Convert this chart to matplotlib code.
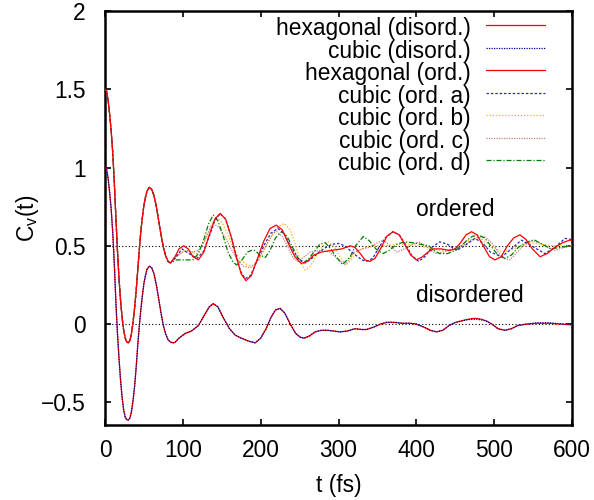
import matplotlib
matplotlib.use("Agg")
import matplotlib.pyplot as plt

plt.rcParams['font.family'] = ['Liberation Sans', 'DejaVu Sans']
plt.rcParams['mathtext.fontset'] = 'custom'
plt.rcParams['mathtext.rm'] = 'Liberation Sans'
plt.rcParams['mathtext.it'] = 'Liberation Sans'

# ---- data ----
t_dis = [0, 2, 4, 6, 8, 10, 12, 14, 16, 18, 20, 22, 24, 26, 28, 30, 32, 34, 36, 38, 40, 42,
         44, 46, 48, 50, 52, 54, 57, 60, 63, 66, 69, 72, 75, 78, 81, 84, 87, 90,
         95, 103, 111, 120, 128, 134, 139, 145, 152, 160, 167, 175, 185, 193, 200, 207,
         213, 219, 225, 231, 238, 245, 251, 256, 263, 270, 278, 286, 294, 302, 311, 321,
         330, 336, 345, 354, 362, 372, 382, 392, 400, 410, 418, 426, 434, 442, 450, 458,
         466, 473, 478, 484, 490, 497, 505, 514, 522, 530, 542, 555, 570, 585, 600]
hex_dis = [1.0, 0.99, 0.93, 0.84, 0.73, 0.58, 0.38, 0.14, -0.06, -0.22, -0.36, -0.47, -0.55,
           -0.595, -0.612, -0.613, -0.60, -0.56, -0.49, -0.40, -0.28, -0.14, -0.02, 0.09, 0.18,
           0.26, 0.31, 0.35, 0.37, 0.36, 0.32, 0.25, 0.16, 0.07, -0.01, -0.065, -0.10, -0.115,
           -0.12, -0.117,
           -0.09, -0.06, -0.045, -0.01, 0.06,
           0.11, 0.13, 0.11, 0.04, -0.03, -0.07, -0.09, -0.11, -0.12, -0.09, -0.03, 0.04,
           0.09, 0.10, 0.07, 0.0, -0.06, -0.085, -0.09, -0.075, -0.05, -0.04, -0.04, -0.045,
           -0.05, -0.045, -0.03, -0.035, -0.035, -0.02, 0.0, 0.01, 0.01, 0.005, 0.005, 0.0,
           -0.02, -0.04, -0.05, -0.04, -0.01, 0.01, 0.02, 0.03, 0.036, 0.036, 0.03, 0.02,
           0.0, -0.03, -0.04, -0.03, -0.01, 0.0, 0.005, 0.005, 0.0, -0.005]
cub_dis = [1.0, 0.99, 0.93, 0.84, 0.73, 0.58, 0.38, 0.14, -0.06, -0.22, -0.36, -0.47, -0.55,
           -0.595, -0.612, -0.613, -0.60, -0.56, -0.49, -0.40, -0.28, -0.14, -0.02, 0.09, 0.18,
           0.26, 0.31, 0.35, 0.37, 0.36, 0.32, 0.25, 0.16, 0.07, -0.01, -0.065, -0.10, -0.115,
           -0.12, -0.117,
           -0.09, -0.06, -0.045, -0.01, 0.06,
           0.11, 0.13, 0.11, 0.04, -0.03, -0.07, -0.09, -0.11, -0.12, -0.09, -0.03, 0.04,
           0.09, 0.10, 0.07, 0.0, -0.06, -0.085, -0.09, -0.075, -0.05, -0.04, -0.04, -0.045,
           -0.05, -0.045, -0.03, -0.035, -0.035, -0.02, 0.0, 0.012, 0.012, 0.005, 0.005, 0.0,
           -0.02, -0.04, -0.05, -0.04, -0.01, 0.01, 0.02, 0.028, 0.03, 0.03, 0.026, 0.018,
           0.0, -0.03, -0.04, -0.03, -0.01, 0.0, 0.008, 0.008, 0.002, -0.005]

t_start = [0, 2, 4, 6, 8, 10, 12, 14, 16, 18, 20, 22, 24, 26, 28, 30, 32, 34, 36, 38, 40,
           42, 44, 46, 48, 50, 52, 54, 57, 60, 63, 66, 69, 72, 75, 78, 81, 84]
y_start = [1.5, 1.49, 1.43, 1.34, 1.23, 1.09, 0.90, 0.68, 0.47, 0.29, 0.15, 0.04, -0.04,
           -0.09, -0.115, -0.12, -0.105, -0.06, 0.01, 0.10, 0.21, 0.34, 0.47, 0.59, 0.68,
           0.76, 0.81, 0.85, 0.873, 0.86, 0.82, 0.75, 0.66, 0.57, 0.49, 0.435, 0.40, 0.39]

t_hex_ord = [90, 95, 101, 107, 113, 120, 127, 134, 141, 148, 155, 162, 168, 175, 181, 188,
             196, 204, 212, 220, 228, 236, 244, 252, 260, 268, 278, 290, 304, 315, 321, 328,
             334, 340, 347, 355, 362, 370, 378, 386, 393, 400, 408, 415, 422, 432, 443, 450,
             456, 464, 471, 478, 486, 494, 501, 509, 517, 525, 533, 541, 549, 559, 568, 578,
             588, 597, 600]
hex_ord = [0.43, 0.48, 0.50, 0.48, 0.43, 0.41, 0.46, 0.57, 0.67, 0.707, 0.67, 0.56, 0.44,
           0.32, 0.277, 0.31, 0.42, 0.53, 0.61, 0.632, 0.60, 0.51, 0.43, 0.387, 0.40, 0.44,
           0.46, 0.47, 0.48, 0.50, 0.49, 0.45, 0.41, 0.40, 0.42, 0.49, 0.56, 0.59, 0.57, 0.50,
           0.44, 0.41, 0.43, 0.46, 0.48, 0.48, 0.47, 0.48, 0.515, 0.57, 0.59, 0.57, 0.50, 0.43,
           0.41, 0.43, 0.50, 0.55, 0.57, 0.54, 0.48, 0.43, 0.45, 0.49, 0.52, 0.536, 0.535]

t_cub_a = [90, 99, 108, 118, 126, 134, 141, 148, 155, 162, 168, 174, 180, 187, 195, 204,
           213, 222, 230, 238, 248, 257, 266, 275, 284, 292, 300, 308, 315, 322, 330, 336,
           344, 352, 360, 370, 378, 386, 394, 403, 411, 420, 430, 440, 452, 462, 475, 485,
           495, 510, 522, 535, 548, 565, 578, 591, 600]
cub_a = [0.42, 0.48, 0.45, 0.42, 0.46, 0.56, 0.66, 0.705, 0.67, 0.56, 0.45, 0.34, 0.29, 0.31,
         0.40, 0.50, 0.58, 0.61, 0.58, 0.50, 0.42, 0.39, 0.42, 0.46, 0.49, 0.51, 0.515, 0.50,
         0.47, 0.44, 0.41, 0.40, 0.42, 0.49, 0.55, 0.59, 0.57, 0.51, 0.44, 0.40, 0.43, 0.49,
         0.525, 0.51, 0.47, 0.50, 0.547, 0.52, 0.46, 0.43, 0.48, 0.536, 0.50, 0.45, 0.49,
         0.547, 0.54]

t_cub_b = [92, 100, 105, 112, 118, 125, 132, 138, 144, 150, 158, 166, 174, 182, 190, 198,
           206, 214, 222, 230, 238, 245, 251, 257, 264, 272, 280, 287, 295, 303, 310, 318,
           326, 340, 360, 375, 390, 405, 420, 435, 450, 465, 480, 495, 510, 525, 540, 548,
           560, 575, 590, 600]
cub_b = [0.44, 0.46, 0.47, 0.46, 0.45, 0.50, 0.58, 0.65, 0.675, 0.65, 0.57, 0.47, 0.41, 0.38,
         0.37, 0.41, 0.49, 0.56, 0.62, 0.643, 0.60, 0.50, 0.40, 0.345, 0.37, 0.44, 0.50, 0.526,
         0.49, 0.42, 0.377, 0.42, 0.47, 0.50, 0.50, 0.51, 0.51, 0.50, 0.48, 0.47, 0.48, 0.53,
         0.557, 0.50, 0.46, 0.48, 0.51, 0.52, 0.51, 0.50, 0.50, 0.50]

t_cub_c = [92, 100, 105, 112, 120, 128, 134, 139, 146, 154, 162, 170, 178, 186, 194, 202,
           210, 216, 221, 228, 236, 242, 248, 256, 263, 275, 289, 298, 308, 315, 321, 330,
           340, 350, 358, 366, 375, 385, 395, 403, 412, 419, 426, 435, 445, 456, 466, 478,
           488, 497, 505, 512, 520, 528, 537, 548, 558, 568, 578, 590, 600]
cub_c = [0.43, 0.46, 0.47, 0.46, 0.47, 0.53, 0.60, 0.64, 0.62, 0.56, 0.48, 0.41, 0.37, 0.36,
         0.39, 0.46, 0.53, 0.58, 0.59, 0.56, 0.48, 0.42, 0.40, 0.43, 0.46, 0.47, 0.46, 0.42,
         0.38, 0.42, 0.46, 0.48, 0.49, 0.52, 0.536, 0.50, 0.46, 0.48, 0.51, 0.525, 0.50, 0.47,
         0.45, 0.46, 0.48, 0.49, 0.52, 0.55, 0.557, 0.52, 0.46, 0.42, 0.41, 0.45, 0.50, 0.536,
         0.52, 0.49, 0.47, 0.49, 0.50]

t_cub_d = [92, 100, 107, 113, 120, 127, 133, 139, 145, 152, 158, 164, 169, 176, 183, 188,
           193, 199, 206, 212, 219, 227, 234, 241, 248, 255, 262, 270, 276, 283, 290, 297,
           305, 315, 322, 332, 340, 348, 357, 365, 375, 385, 395, 405, 416, 423, 430, 440,
           450, 458, 466, 472, 480, 488, 497, 505, 514, 522, 531, 540, 552, 562, 573, 585, 600]
cub_d = [0.41, 0.41, 0.41, 0.41, 0.45, 0.54, 0.64, 0.696, 0.66, 0.56, 0.46, 0.40, 0.377,
         0.41, 0.46, 0.47, 0.47, 0.44, 0.426, 0.47, 0.55, 0.59, 0.56, 0.49, 0.42, 0.39, 0.42,
         0.47, 0.51, 0.52, 0.48, 0.43, 0.38, 0.43, 0.50, 0.56, 0.53, 0.48, 0.45, 0.47, 0.51,
         0.525, 0.52, 0.51, 0.50, 0.47, 0.45, 0.45, 0.47, 0.50, 0.54, 0.56, 0.568, 0.55, 0.49,
         0.44, 0.42, 0.44, 0.49, 0.52, 0.536, 0.51, 0.48, 0.49, 0.50]

labels = ["hexagonal (disord.)", "cubic (disord.)", "hexagonal (ord.)", "cubic (ord. a)",
          "cubic (ord. b)", "cubic (ord. c)", "cubic (ord. d)"]
xticks = [0, 100, 200, 300, 400, 500, 600]
yticks = [-0.5, 0, 0.5, 1, 1.5, 2]
ytick_labels = ["\u22120.5", "0", "0.5", "1", "1.5", "2"]

FS = 16.4

# ---- figure ----
fig = plt.figure(figsize=(5.94, 5.0), dpi=100)
ax = fig.add_axes([105 / 594, 1 - 425 / 500, (572 - 105) / 594, (425 - 11) / 500])

ax.axhline(0, color='black', ls=(0, (1, 2)), lw=0.8, zorder=1)
ax.axhline(0.5, color='black', ls=(0, (1, 2)), lw=0.8, zorder=1)

lw = 0.9
ax.plot(t_dis, hex_dis, color='#ff0000', lw=lw, label=labels[0], zorder=3)
ax.plot(t_dis, cub_dis, color='#0000a0', lw=lw, ls=(0, (1, 1)), label=labels[1], zorder=4)
ax.plot(t_start + t_hex_ord, y_start + hex_ord, color='#ff0000', lw=lw, label=labels[2], zorder=5)
ax.plot(t_start + t_cub_a, y_start + cub_a, color='#2828b0', lw=lw, ls=(0, (2, 1.5)), label=labels[3], zorder=4)
ax.plot(t_start + t_cub_b, y_start + cub_b, color='#ffb000', lw=lw, ls=(0, (1, 1.5)), label=labels[4], zorder=3)
ax.plot(t_start + t_cub_c, y_start + cub_c, color='#c08080', lw=lw, ls=(0, (1, 1)), label=labels[5], zorder=3)
ax.plot(t_start + t_cub_d, y_start + cub_d, color='#008000', lw=lw, ls=(0, (4, 1.5, 1, 1.5)), label=labels[6], zorder=3)

ax.set_xlim(0, 600)
ax.set_ylim(-0.645, 2.0)
ax.set_xticks(xticks)
ax.set_yticks(yticks)
ax.set_yticklabels(ytick_labels)
ax.tick_params(direction='in', length=4, width=1.2, top=True, right=True, labelsize=FS)
ax.tick_params(axis='x', pad=10)
ax.tick_params(axis='y', pad=14)
for s in ax.spines.values():
    s.set_linewidth(1.8)

ax.set_xlabel("t (fs)", fontsize=FS, labelpad=9)
ax.set_ylabel(r"C$_\mathrm{v}$(t)", fontsize=FS, labelpad=0)

ax.text(450, 0.69, "ordered", fontsize=FS, ha='center', va='baseline')
ax.text(469, 0.142, "disordered", fontsize=FS, ha='center', va='baseline')

leg = ax.legend(loc='upper right', bbox_to_anchor=(0.942, 0.985), frameon=False,
                markerfirst=False, fontsize=FS, handlelength=2.6, handletextpad=0.67,
                labelspacing=-0.02, borderaxespad=0.0, borderpad=0.0)
for vp in leg.get_children()[0].get_children()[1].get_children()[0].get_children():
    vp.align = 'right'

fig.savefig("out.png", dpi=100)
